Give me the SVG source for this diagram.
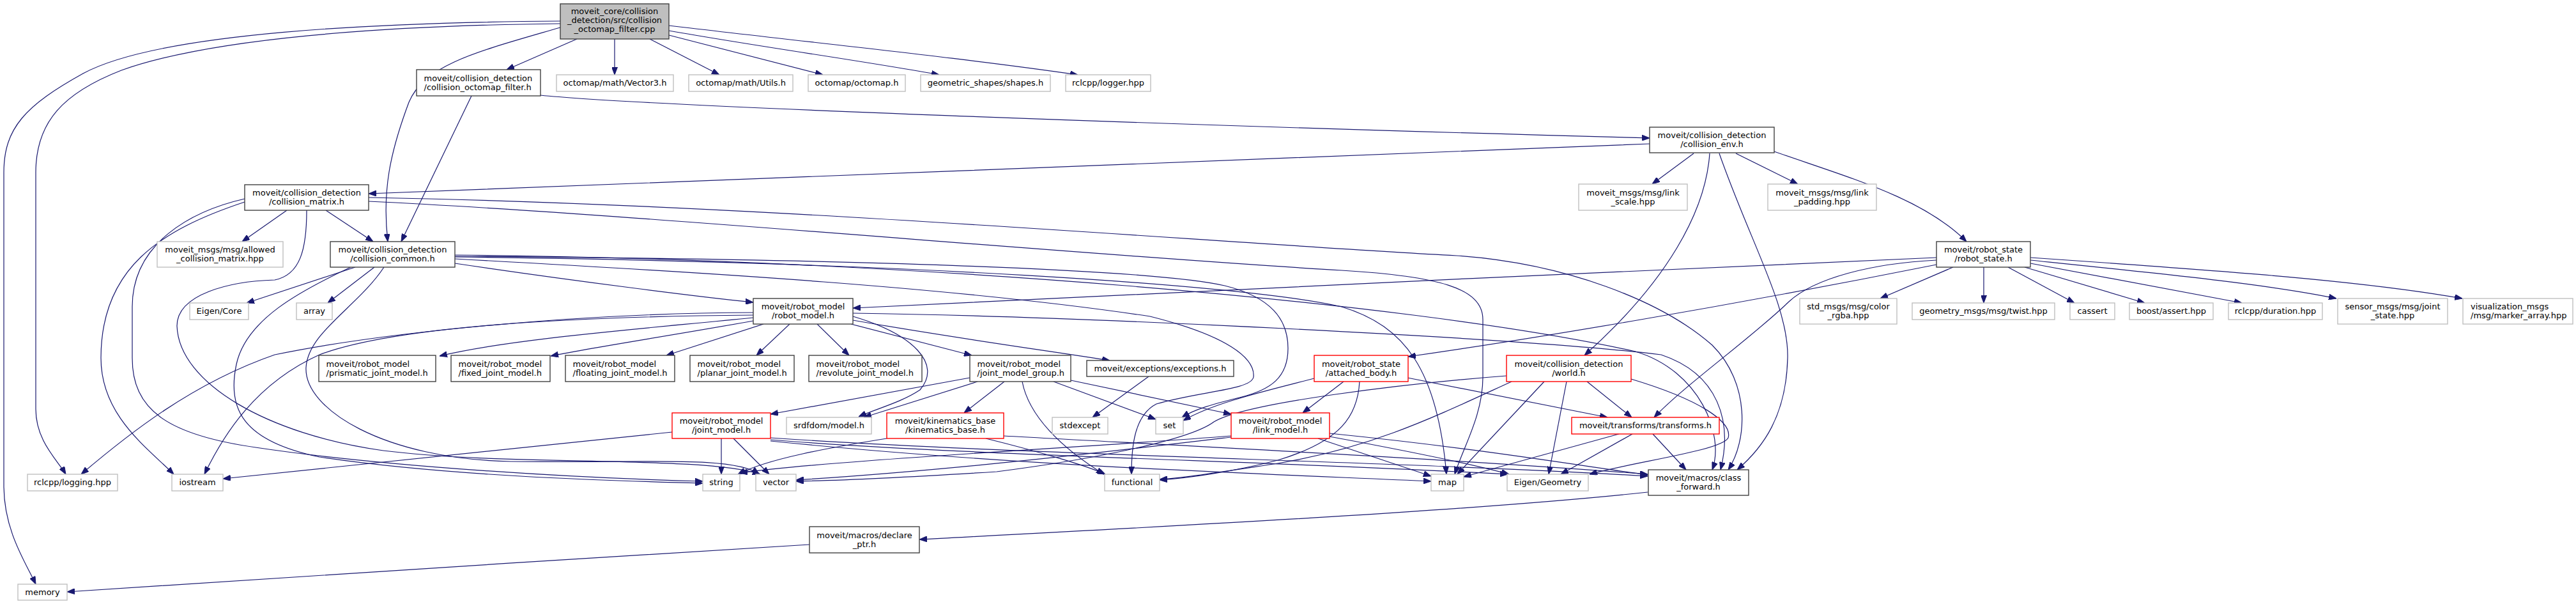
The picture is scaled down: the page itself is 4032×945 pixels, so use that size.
<svg xmlns="http://www.w3.org/2000/svg" width="4032" height="945" viewBox="0 0 4032 945">
<style>
rect{fill:#fff;stroke-width:1.4}
.d{stroke:#404040}
.u{stroke:#bfbfbf}
.r{stroke:#ff0000}
.root{fill:#bfbfbf;stroke:#404040}
text{font-family:"DejaVu Sans",Verdana,sans-serif;font-size:13px;fill:#000;text-anchor:middle}
text.l{text-anchor:start}
#edges path{fill:none;stroke:#191970;stroke-width:1.2;marker-end:url(#ah)}
</style>
<defs>
<marker id="ah" markerUnits="userSpaceOnUse" markerWidth="12" markerHeight="9" refX="12" refY="4.5" orient="auto"><path d="M0,0 L12,4.5 L0,9 z" fill="#191970" stroke="#191970" stroke-width="1"/></marker>
</defs>
<rect x="0" y="0" width="4032" height="945" style="fill:#fff;stroke:none"/>
<g id="edges">
<path d="M903,61 L793,109"/>
<path d="M962,61 L962,117"/>
<path d="M1017,61 L1126,117"/>
<path d="M1047,55 L1288,117"/>
<path d="M1047,48 C1200,75 1350,95 1470,117"/>
<path d="M1047,40 C1300,70 1500,90 1687,117"/>
<path d="M877,43 C750,80 665,100 640,160 C610,240 598,300 607,378"/>
<path d="M877,37 C600,40 330,60 190,110 C100,145 56,190 56,270 L56,640 C56,690 90,720 103,742"/>
<path d="M877,33 C600,35 250,50 130,115 C40,165 6,200 6,270 L6,760 C6,830 40,880 56,914"/>
<path d="M846,149 C1000,165 1800,195 2582,216"/>
<path d="M738,150 L628,378"/>
<path d="M2582,225 C2000,247 1200,280 577,303"/>
<path d="M2651,240 L2586,288"/>
<path d="M2717,240 L2814,288"/>
<path d="M2777,237 C2900,280 3010,310 3078,378"/>
<path d="M2676,240 C2670,330 2610,440 2480,556"/>
<path d="M2691,240 C2740,380 2800,480 2798,560 C2796,650 2760,700 2719,735"/>
<path d="M449,329 L379,378"/>
<path d="M510,329 L584,378"/>
<path d="M383,316 C250,360 158,420 158,560 C158,650 230,700 272,742"/>
<path d="M383,311 C300,330 207,380 207,480 L207,560 C207,640 260,680 400,700 C600,730 900,748 1100,753"/>
<path d="M480,329 C480,390 470,430 430,438 C360,440 277,460 277,510 C280,600 420,680 600,705 C800,730 1100,712 1190,742"/>
<path d="M577,309 C1200,320 1900,380 2280,400 C2450,412 2600,470 2680,540 C2740,600 2735,690 2705,735"/>
<path d="M577,315 C1000,335 1700,400 2100,423 C2250,432 2321,450 2321,500 L2321,590 C2321,650 2290,700 2277,742"/>
<path d="M556,418 L386,474"/>
<path d="M586,418 L513,474"/>
<path d="M549,418 C470,455 385,500 370,570 C355,640 380,690 500,715 C700,745 950,752 1100,756"/>
<path d="M601,418 C560,480 482,520 479,575 C476,640 600,718 800,722 C1000,725 1150,712 1188,742"/>
<path d="M712,412 C900,440 1100,465 1179,473"/>
<path d="M712,405 C1100,426 1500,450 1800,495 C1920,525 1965,560 1962,590 C1958,610 1880,612 1810,632 C1775,650 1771,700 1771,742"/>
<path d="M712,401 C1300,405 1800,420 1917,447 C1990,465 2016,500 2016,545 C2016,590 1990,610 1940,622 C1900,632 1870,640 1850,653"/>
<path d="M712,402 C1400,410 1950,445 2100,480 C2200,510 2250,580 2264,742"/>
<path d="M712,399 C1400,405 2200,470 2560,550 C2660,580 2700,680 2680,735"/>
<path d="M1179,497 C1000,515 800,530 688,557"/>
<path d="M1179,502 C1050,525 920,545 862,557"/>
<path d="M1195,507 L1043,556"/>
<path d="M1236,507 L1184,556"/>
<path d="M1279,507 L1329,556"/>
<path d="M1332,507 L1521,556"/>
<path d="M1335,501 C1500,530 1650,550 1737,564"/>
<path d="M1335,495 C1430,523 1475,570 1440,610 C1410,630 1370,640 1344,652"/>
<path d="M1179,489 C900,490 600,520 430,555 C300,600 200,680 127,742"/>
<path d="M1179,493 C900,495 620,510 500,555 C400,600 350,680 320,742"/>
<path d="M1335,490 C1700,495 2400,530 2600,555 C2690,585 2712,660 2693,735"/>
<path d="M3031,403 C2500,425 1800,460 1335,482"/>
<path d="M3031,414 C2700,480 2400,530 2204,558"/>
<path d="M3031,407 C2930,412 2840,435 2800,472 C2740,530 2640,600 2589,653"/>
<path d="M3057,418 L2943,467"/>
<path d="M3105,418 L3105,474"/>
<path d="M3143,418 L3247,474"/>
<path d="M3169,418 L3357,474"/>
<path d="M3178,412 L3509,474"/>
<path d="M3178,407 C3400,430 3550,445 3657,467"/>
<path d="M3178,403 C3500,425 3700,440 3854,467"/>
<path d="M1518,591 L1206,648"/>
<path d="M1530,597 L1352,653"/>
<path d="M1572,597 L1509,646"/>
<path d="M1600,597 C1610,650 1660,700 1728,742"/>
<path d="M1649,597 L1809,656"/>
<path d="M1676,595 L1927,648"/>
<path d="M1798,589 L1710,653"/>
<path d="M1129,686 L1129,742"/>
<path d="M1148,686 L1204,742"/>
<path d="M1052,676 L349,749"/>
<path d="M1206,685 C1600,712 2200,722 2579,745"/>
<path d="M1206,688 C1500,712 2000,722 2360,742"/>
<path d="M1206,690 C1600,730 2000,742 2240,753"/>
<path d="M1388,686 C1300,700 1200,718 1155,742"/>
<path d="M1543,686 C1620,705 1700,728 1730,742"/>
<path d="M1571,682 C1900,700 2300,720 2579,742"/>
<path d="M1927,682 C1700,700 1300,720 1158,740"/>
<path d="M1927,684 C1750,705 1500,735 1246,751"/>
<path d="M2063,686 L2240,745"/>
<path d="M2081,683 C2200,705 2300,725 2362,742"/>
<path d="M2081,678 C2300,700 2450,725 2579,743"/>
<path d="M2103,597 L2039,646"/>
<path d="M2057,592 C1980,612 1900,630 1852,658"/>
<path d="M2128,597 C2125,650 2100,690 2000,720 C1930,738 1860,748 1815,751"/>
<path d="M2203,591 L2516,653"/>
<path d="M2484,597 L2554,653"/>
<path d="M2452,597 L2424,742"/>
<path d="M2417,597 L2281,742"/>
<path d="M2553,593 C2660,625 2712,660 2705,685 C2695,705 2560,722 2488,742"/>
<path d="M2358,588 C2200,600 1950,630 1900,660 C1860,690 1700,720 1560,738 C1400,748 1300,752 1246,753"/>
<path d="M2366,597 C2250,650 2150,700 2000,725 C1900,740 1850,748 1815,750"/>
<path d="M2534,679 L2291,746"/>
<path d="M2555,679 L2443,742"/>
<path d="M2587,679 L2639,735"/>
<path d="M2579,770 C2300,800 1800,825 1439,844"/>
<path d="M1267,852 C900,875 400,905 105,926"/>
</g>
<g id="n_root"><rect class="root" x="877" y="6" width="170" height="55"/><text x="962" y="22">moveit_core/collision</text><text x="962" y="36">_detection/src/collision</text><text x="962" y="50">_octomap_filter.cpp</text></g>
<g id="n_octomap_filter_h"><rect class="d" x="652" y="109" width="194" height="41"/><text class="l" x="663.5" y="126.5">moveit/collision_detection</text><text class="l" x="663.5" y="140.5">/collision_octomap_filter.h</text></g>
<g id="n_vector3"><rect class="u" x="871" y="117" width="183" height="26"/><text x="962.5" y="134">octomap/math/Vector3.h</text></g>
<g id="n_utils"><rect class="u" x="1078" y="117" width="163" height="26"/><text x="1159.5" y="134">octomap/math/Utils.h</text></g>
<g id="n_octomap"><rect class="u" x="1265" y="117" width="152" height="26"/><text x="1341" y="134">octomap/octomap.h</text></g>
<g id="n_shapes"><rect class="u" x="1441" y="117" width="203" height="26"/><text x="1542.5" y="134">geometric_shapes/shapes.h</text></g>
<g id="n_logger"><rect class="u" x="1668" y="117" width="133" height="26"/><text x="1734.5" y="134">rclcpp/logger.hpp</text></g>
<g id="n_collision_env"><rect class="d" x="2582" y="199" width="195" height="40"/><text x="2679.5" y="216">moveit/collision_detection</text><text x="2679.5" y="230">/collision_env.h</text></g>
<g id="n_collision_matrix"><rect class="d" x="383" y="289" width="194" height="40"/><text x="480" y="306">moveit/collision_detection</text><text x="480" y="320">/collision_matrix.h</text></g>
<g id="n_link_scale"><rect class="u" x="2471" y="288" width="170" height="41"/><text x="2556" y="305.5">moveit_msgs/msg/link</text><text x="2556" y="319.5">_scale.hpp</text></g>
<g id="n_link_padding"><rect class="u" x="2767" y="288" width="170" height="41"/><text x="2852" y="305.5">moveit_msgs/msg/link</text><text x="2852" y="319.5">_padding.hpp</text></g>
<g id="n_allowed"><rect class="u" x="246" y="378" width="197" height="40"/><text x="344.5" y="395">moveit_msgs/msg/allowed</text><text x="344.5" y="409">_collision_matrix.hpp</text></g>
<g id="n_collision_common"><rect class="d" x="517" y="378" width="195" height="40"/><text x="614.5" y="395">moveit/collision_detection</text><text x="614.5" y="409">/collision_common.h</text></g>
<g id="n_robot_state"><rect class="d" x="3031" y="378" width="147" height="40"/><text x="3104.5" y="395">moveit/robot_state</text><text x="3104.5" y="409">/robot_state.h</text></g>
<g id="n_robot_model"><rect class="d" x="1179" y="467" width="156" height="40"/><text x="1257" y="484">moveit/robot_model</text><text x="1257" y="498">/robot_model.h</text></g>
<g id="n_eigen_core"><rect class="u" x="297" y="474" width="92" height="26"/><text x="343" y="491">Eigen/Core</text></g>
<g id="n_array"><rect class="u" x="464" y="474" width="56" height="26"/><text x="492" y="491">array</text></g>
<g id="n_color_rgba"><rect class="u" x="2817" y="467" width="152" height="40"/><text x="2893" y="484">std_msgs/msg/color</text><text x="2893" y="498">_rgba.hpp</text></g>
<g id="n_twist"><rect class="u" x="2993" y="474" width="223" height="26"/><text x="3104.5" y="491">geometry_msgs/msg/twist.hpp</text></g>
<g id="n_cassert"><rect class="u" x="3240" y="474" width="70" height="26"/><text x="3275" y="491">cassert</text></g>
<g id="n_boost_assert"><rect class="u" x="3333" y="474" width="131" height="26"/><text x="3398.5" y="491">boost/assert.hpp</text></g>
<g id="n_duration"><rect class="u" x="3488" y="474" width="147" height="26"/><text x="3561.5" y="491">rclcpp/duration.hpp</text></g>
<g id="n_joint_state"><rect class="u" x="3659" y="467" width="172" height="40"/><text x="3745" y="484">sensor_msgs/msg/joint</text><text x="3745" y="498">_state.hpp</text></g>
<g id="n_marker_array"><rect class="u" x="3855" y="467" width="172" height="40"/><text class="l" x="3867" y="484">visualization_msgs</text><text class="l" x="3867" y="498">/msg/marker_array.hpp</text></g>
<g id="n_prismatic"><rect class="d" x="499" y="556" width="183" height="41"/><text class="l" x="510.5" y="573.5">moveit/robot_model</text><text class="l" x="510.5" y="587.5">/prismatic_joint_model.h</text></g>
<g id="n_fixed"><rect class="d" x="706" y="556" width="155" height="41"/><text class="l" x="717.5" y="573.5">moveit/robot_model</text><text class="l" x="717.5" y="587.5">/fixed_joint_model.h</text></g>
<g id="n_floating"><rect class="d" x="885" y="556" width="171" height="41"/><text class="l" x="896.5" y="573.5">moveit/robot_model</text><text class="l" x="896.5" y="587.5">/floating_joint_model.h</text></g>
<g id="n_planar"><rect class="d" x="1080" y="556" width="163" height="41"/><text class="l" x="1091.5" y="573.5">moveit/robot_model</text><text class="l" x="1091.5" y="587.5">/planar_joint_model.h</text></g>
<g id="n_revolute"><rect class="d" x="1266" y="556" width="177" height="41"/><text class="l" x="1277.5" y="573.5">moveit/robot_model</text><text class="l" x="1277.5" y="587.5">/revolute_joint_model.h</text></g>
<g id="n_joint_model_group"><rect class="d" x="1518" y="556" width="158" height="41"/><text class="l" x="1529.5" y="573.5">moveit/robot_model</text><text class="l" x="1529.5" y="587.5">/joint_model_group.h</text></g>
<g id="n_exceptions"><rect class="d" x="1701" y="564" width="230" height="25"/><text x="1816" y="580.5">moveit/exceptions/exceptions.h</text></g>
<g id="n_attached_body"><rect class="r" x="2057" y="556" width="147" height="41"/><text x="2130.5" y="573.5">moveit/robot_state</text><text x="2130.5" y="587.5">/attached_body.h</text></g>
<g id="n_world"><rect class="r" x="2358" y="556" width="195" height="41"/><text x="2455.5" y="573.5">moveit/collision_detection</text><text x="2455.5" y="587.5">/world.h</text></g>
<g id="n_joint_model"><rect class="r" x="1052" y="646" width="154" height="40"/><text x="1129" y="663">moveit/robot_model</text><text x="1129" y="677">/joint_model.h</text></g>
<g id="n_srdfdom"><rect class="u" x="1231" y="653" width="133" height="26"/><text x="1297.5" y="670">srdfdom/model.h</text></g>
<g id="n_kinematics_base"><rect class="r" x="1388" y="646" width="183" height="40"/><text x="1479.5" y="663">moveit/kinematics_base</text><text x="1479.5" y="677">/kinematics_base.h</text></g>
<g id="n_stdexcept"><rect class="u" x="1647" y="653" width="87" height="26"/><text x="1690.5" y="670">stdexcept</text></g>
<g id="n_set"><rect class="u" x="1809" y="653" width="43" height="26"/><text x="1830.5" y="670">set</text></g>
<g id="n_link_model"><rect class="r" x="1927" y="646" width="154" height="40"/><text x="2004" y="663">moveit/robot_model</text><text x="2004" y="677">/link_model.h</text></g>
<g id="n_transforms"><rect class="r" x="2460" y="653" width="231" height="26"/><text x="2575.5" y="670">moveit/transforms/transforms.h</text></g>
<g id="n_logging"><rect class="u" x="43" y="742" width="141" height="26"/><text x="113.5" y="759">rclcpp/logging.hpp</text></g>
<g id="n_iostream"><rect class="u" x="269" y="742" width="80" height="26"/><text x="309" y="759">iostream</text></g>
<g id="n_string"><rect class="u" x="1100" y="742" width="58" height="26"/><text x="1129" y="759">string</text></g>
<g id="n_vector"><rect class="u" x="1183" y="742" width="63" height="26"/><text x="1214.5" y="759">vector</text></g>
<g id="n_functional"><rect class="u" x="1729" y="742" width="86" height="26"/><text x="1772" y="759">functional</text></g>
<g id="n_map"><rect class="u" x="2240" y="742" width="51" height="26"/><text x="2265.5" y="759">map</text></g>
<g id="n_eigen_geometry"><rect class="u" x="2359" y="742" width="127" height="26"/><text x="2422.5" y="759">Eigen/Geometry</text></g>
<g id="n_class_forward"><rect class="d" x="2580" y="735" width="157" height="40"/><text x="2658.5" y="752">moveit/macros/class</text><text x="2658.5" y="766">_forward.h</text></g>
<g id="n_declare_ptr"><rect class="d" x="1267" y="824" width="172" height="41"/><text x="1353" y="841.5">moveit/macros/declare</text><text x="1353" y="855.5">_ptr.h</text></g>
<g id="n_memory"><rect class="u" x="28" y="914" width="77" height="25"/><text x="66.5" y="930.5">memory</text></g>
</svg>
